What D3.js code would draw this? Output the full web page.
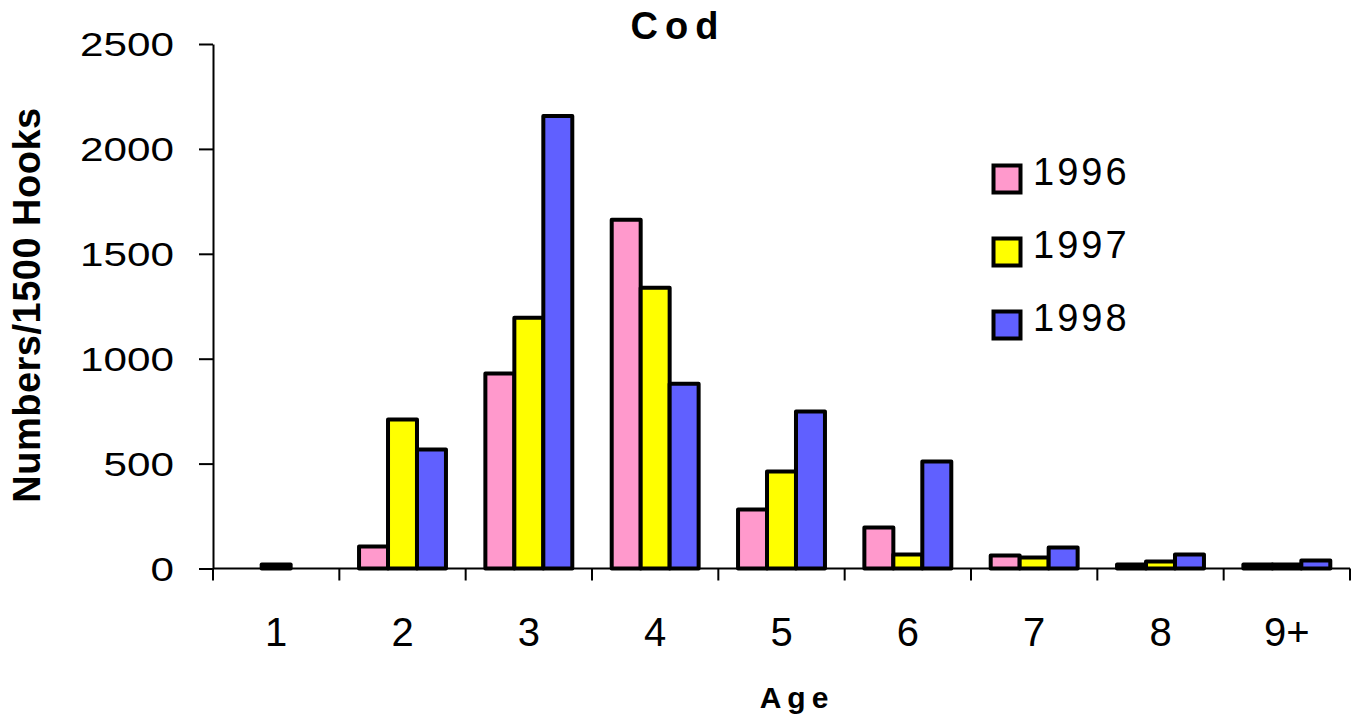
<!DOCTYPE html>
<html>
<head>
<meta charset="utf-8">
<script src="https://cdn.jsdelivr.net/npm/d3@7"></script>
<style>
    body { margin: 0; background: #fff; }
    text { font-family: Arial, "Liberation Sans", sans-serif; fill: #000; }
</style>
</head>
<body>
<div id="chart"></div>
<script>
// data
var ages = ["1", "2", "3", "4", "5", "6", "7", "8", "9+"];
var years = ["1996", "1997", "1998"];
var v1996 = [0, 105, 929, 1662, 281, 195, 62, 19, 19];
var v1997 = [19, 710, 1195, 1338, 462, 67, 52, 33, 19];
var v1998 = [0, 567, 2157, 881, 748, 510, 100, 67, 38];
var yTicks = [0, 500, 1000, 1500, 2000, 2500];
var colors = ["#FF99CC", "#FFFF00", "#6060FF"];

var seriesValues = [v1996, v1997, v1998];

var fullWidth = 1358;
var fullHeight = 721;

var svg = d3.select("#chart").append("svg").attr("width", fullWidth).attr("height", fullHeight);

// scales
var y = d3.scaleLinear().domain([0, 2500]).range([568.5, 44]);
var x0 = d3.scaleBand().domain(ages).range([213, 1350]).padding(0);
var x1 = d3.scaleBand().domain(years).range([0, x0.bandwidth()]).paddingInner(0).paddingOuter(0.68);
var color = d3.scaleOrdinal().domain(years).range(colors);

// flatten into cells
var cells = [];
ages.forEach(function(a, i) {
    years.forEach(function(yr, j) {
        cells.push({ "age": a, "year": yr, "value": seriesValues[j][i] });
    });
});

// bars
svg.append("g").selectAll("rect").data(cells.filter(function(d) {
    return d.value > 0;
})).enter().append("rect").attr("x", function(d) {
    return x0(d.age) + x1(d.year);
}).attr("y", function(d) {
    return y(d.value);
}).attr("width", x1.bandwidth()).attr("height", function(d) {
    return y(0) - y(d.value);
}).style("fill", function(d) {
    return color(d.year);
}).style("stroke", "#000").style("stroke-width", 4).style("stroke-linejoin", "round");

// y axis
var yAxis = d3.axisLeft(y).tickValues(yTicks).tickSize(14).tickSizeOuter(0).tickFormat(d3.format("d"));
var yg = svg.append("g").attr("transform", "translate(213,0)").call(yAxis);
yg.select(".domain").style("stroke-width", 2);
yg.selectAll(".tick line").style("stroke-width", 2);
yg.selectAll(".tick text").attr("x", -39 / 1.28).attr("dy", "0.36em")
    .attr("transform", "scale(1.28,1)")
    .style("font-size", "33px").style("font-family", "Arial, 'Liberation Sans', sans-serif");

// x axis line and category separators
var xg = svg.append("g");
xg.append("line").attr("x1", x0.range()[0]).attr("x2", x0.range()[1])
    .attr("y1", y(0)).attr("y2", y(0)).style("stroke", "#000").style("stroke-width", 2);
var bounds = ages.map(function(a) { return x0(a); }).concat([x0.range()[1]]);
xg.selectAll(".sep").data(bounds).enter().append("line").attr("class", "sep")
    .attr("x1", function(d) { return d; }).attr("x2", function(d) { return d; })
    .attr("y1", y(0)).attr("y2", y(0) + 12).style("stroke", "#000").style("stroke-width", 2);
xg.selectAll(".xlab").data(ages).enter().append("text").attr("class", "xlab")
    .attr("x", function(d) { return x0(d) + x0.bandwidth() / 2; })
    .attr("y", 646).attr("text-anchor", "middle").style("font-size", "40px")
    .text(function(d) { return d; });

// titles
svg.append("text").attr("x", 678).attr("y", 39).attr("text-anchor", "middle")
    .style("font-size", "38px").style("font-weight", "bold").style("letter-spacing", "7px")
    .text("Cod");
svg.append("text").attr("x", 797).attr("y", 708).attr("text-anchor", "middle")
    .style("font-size", "30px").style("font-weight", "bold").style("letter-spacing", "6px")
    .text("Age");
svg.append("text").attr("transform", "translate(40,305) rotate(-90)").attr("text-anchor", "middle")
    .style("font-size", "38px").style("font-weight", "bold").style("letter-spacing", "0.5px")
    .text("Numbers/1500 Hooks");

// legend
var legend = svg.append("g").selectAll(".leg").data(years).enter().append("g")
    .attr("class", "leg").attr("transform", function(d, i) {
        return "translate(993.5," + (165.5 + i * 73) + ")";
    });
legend.append("rect").attr("width", 27).attr("height", 27)
    .style("fill", function(d) { return color(d); })
    .style("stroke", "#000").style("stroke-width", 4);
legend.append("text").attr("x", 39.5).attr("y", 19.5)
    .style("font-size", "38px").style("letter-spacing", "3px")
    .text(function(d) { return d; });
</script>
</body>
</html>
